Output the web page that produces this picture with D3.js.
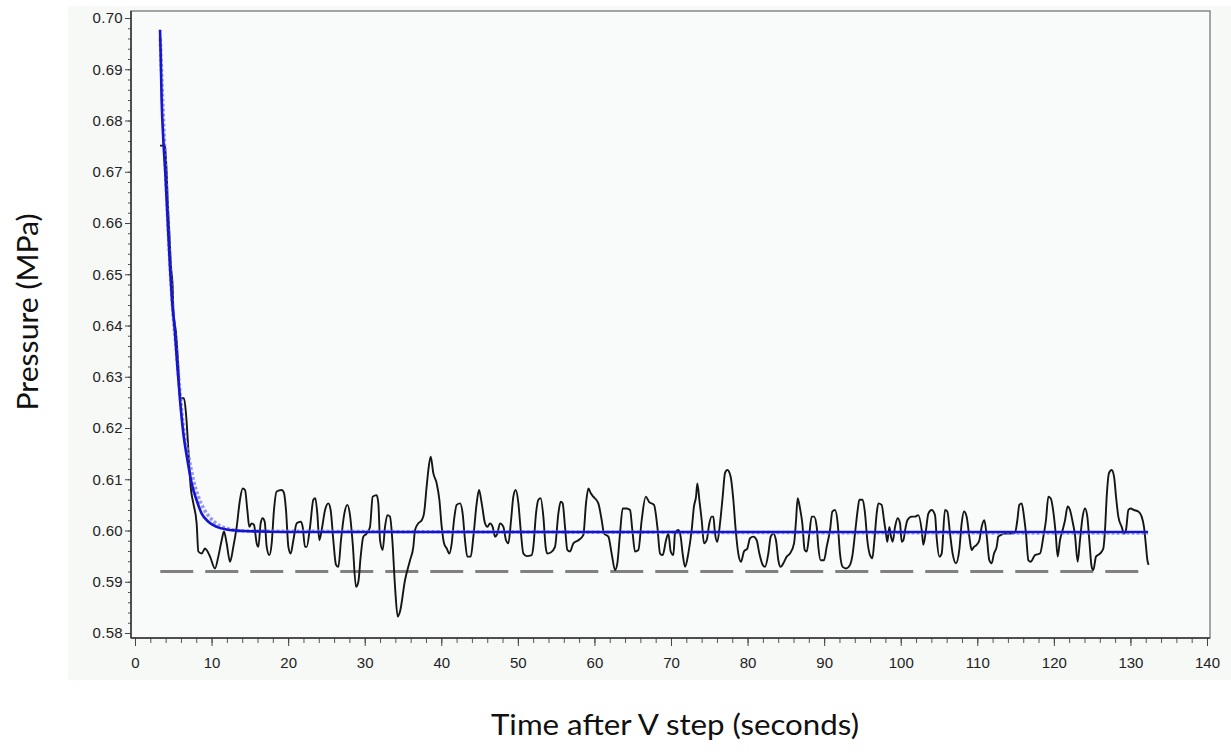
<!DOCTYPE html>
<html lang="en">
<head>
<meta charset="UTF-8">
<script src="https://d3js.org/d3.v7.min.js"></script>
<style>
  body { margin: 0; background: #ffffff; }
</style>
</head>
<body>
<script>
// measured pressure after the V step (black trace)
var measTime = [3.27, 3.92, 4.00, 4.14, 4.27, 4.49, 4.70, 4.92, 5.01, 5.36, 5.66, 5.88, 6.40, 6.66, 6.97, 7.27, 7.62, 8.05, 8.27, 8.71,
  9.14, 9.36, 9.80, 10.45, 10.88, 11.32, 11.62, 11.97, 12.41, 12.84, 13.28, 13.71, 14.06, 14.37, 14.67, 14.93, 15.24, 15.54, 15.89, 16.11,
  16.41, 16.67, 16.94, 17.20, 17.54, 17.85, 18.15, 18.50, 19.16, 19.46, 19.72, 20.03, 20.33, 20.68, 21.12, 21.64, 21.90, 22.20, 22.42, 22.86,
  23.29, 23.55, 23.81, 24.07, 24.38, 24.82, 25.25, 25.55, 25.90, 26.25, 26.56, 26.90, 27.34, 27.73, 28.08, 28.43, 28.86, 29.17, 29.47, 29.82,
  30.26, 30.69, 31.04, 31.56, 31.78, 32.00, 32.35, 32.65, 32.96, 33.30, 33.61, 33.96, 34.31, 34.61, 35.26, 35.92, 36.35, 36.57, 37.00, 37.44,
  37.74, 38.09, 38.31, 38.62, 38.96, 39.40, 39.75, 40.05, 40.36, 40.71, 41.05, 41.36, 41.66, 42.01, 42.45, 42.79, 43.10, 43.40, 43.84, 44.19,
  44.62, 44.93, 45.28, 45.71, 46.02, 46.36, 46.71, 47.02, 47.32, 47.67, 48.11, 48.45, 48.76, 49.11, 49.41, 49.72, 50.07, 50.37, 50.72, 51.15,
  51.81, 52.02, 52.37, 52.68, 52.98, 53.33, 53.63, 53.85, 54.29, 54.85, 55.29, 55.59, 55.85, 56.16, 56.46, 56.81, 57.25, 57.90, 58.55, 58.90,
  59.21, 59.51, 59.86, 60.51, 60.95, 61.25, 61.82, 62.25, 62.69, 62.99, 63.34, 63.69, 64.21, 64.65, 64.95, 65.30, 65.74, 66.17, 66.70, 67.13,
  67.78, 68.22, 68.57, 68.92, 69.35, 69.66, 69.96, 70.31, 70.52, 70.96, 71.26, 71.52, 71.83, 72.26, 72.70, 73.00, 73.27, 73.44, 73.70, 74.01,
  74.31, 74.66, 75.01, 75.31, 75.53, 75.75, 76.05, 76.40, 76.75, 77.05, 77.36, 77.79, 78.14, 78.45, 78.79, 79.14, 79.53, 79.97, 80.32, 80.75,
  81.19, 81.54, 81.97, 82.28, 82.71, 83.02, 83.37, 83.71, 84.02, 84.32, 84.67, 85.11, 85.54, 86.07, 86.33, 86.54, 86.85, 87.15, 87.46, 87.72,
  88.07, 88.37, 88.68, 89.03, 89.24, 89.55, 89.98, 90.33, 90.77, 91.07, 91.42, 91.77, 92.07, 92.42, 92.86, 93.38, 93.73, 94.08, 94.38, 94.60,
  95.03, 95.34, 95.64, 95.99, 96.30, 96.56, 96.86, 97.08, 97.51, 97.82, 98.08, 98.25, 98.52, 98.73, 98.95, 99.26, 99.60, 99.91, 100.13, 100.34,
  100.65, 100.87, 101.43, 101.87, 102.30, 102.74, 102.96, 103.30, 103.61, 104.04, 104.48, 104.70, 105.05, 105.35, 105.78, 106.09, 106.44, 106.78, 107.22, 107.65,
  107.96, 108.26, 108.61, 108.96, 109.27, 109.57, 109.92, 110.27, 110.57, 110.92, 111.22, 111.57, 111.88, 112.18, 112.53, 112.75, 113.05, 113.62, 114.27, 114.93,
  115.23, 115.49, 115.80, 116.10, 116.36, 116.67, 116.97, 117.54, 118.19, 118.63, 118.97, 119.28, 119.58, 119.93, 120.24, 120.50, 120.80, 121.15, 121.46, 121.80,
  122.11, 122.41, 122.76, 123.11, 123.41, 123.76, 124.07, 124.37, 124.63, 124.94, 125.16, 125.50, 126.03, 126.46, 126.68, 126.90, 127.20, 127.55, 127.86, 128.12,
  128.42, 128.86, 129.16, 129.42, 129.73, 130.03, 130.47, 131.03, 131.47, 131.77, 132.04, 132.21, 132.38];
var measPressure = [0.6751, 0.6751, 0.6736, 0.6697, 0.6645, 0.6580, 0.6515, 0.6476, 0.6430, 0.6385, 0.6320, 0.6258, 0.6258, 0.6228, 0.6157, 0.6085, 0.6053, 0.6014, 0.5959, 0.5955,
  0.5965, 0.5962, 0.5949, 0.5926, 0.5949, 0.5981, 0.5998, 0.5975, 0.5939, 0.5968, 0.6007, 0.6060, 0.6082, 0.6079, 0.6040, 0.6007, 0.6014, 0.6011, 0.5975, 0.5968,
  0.6014, 0.6024, 0.6017, 0.5968, 0.5952, 0.5975, 0.6040, 0.6076, 0.6079, 0.6073, 0.6040, 0.5968, 0.5955, 0.5981, 0.6014, 0.6017, 0.6007, 0.5968, 0.5968, 0.6007,
  0.6060, 0.6063, 0.6033, 0.5981, 0.6001, 0.6040, 0.6053, 0.6040, 0.5981, 0.5933, 0.5929, 0.5981, 0.6033, 0.6050, 0.6030, 0.5975, 0.5890, 0.5900, 0.5949, 0.5988,
  0.5994, 0.6007, 0.6066, 0.6069, 0.6053, 0.5981, 0.5962, 0.6007, 0.6030, 0.6027, 0.5981, 0.5890, 0.5832, 0.5842, 0.5903, 0.5942, 0.5968, 0.6001, 0.6014, 0.6020,
  0.6033, 0.6086, 0.6118, 0.6144, 0.6112, 0.6092, 0.6060, 0.6008, 0.5975, 0.5965, 0.5955, 0.5975, 0.6020, 0.6050, 0.6053, 0.6033, 0.5981, 0.5949, 0.5949, 0.5988,
  0.6053, 0.6079, 0.6053, 0.6014, 0.6007, 0.6014, 0.6007, 0.5988, 0.5994, 0.6014, 0.6007, 0.5981, 0.5975, 0.6020, 0.6066, 0.6079, 0.6053, 0.6001, 0.5955, 0.5950,
  0.5952, 0.5968, 0.6033, 0.6060, 0.6063, 0.6027, 0.5968, 0.5955, 0.5957, 0.5968, 0.6033, 0.6056, 0.6053, 0.6007, 0.5962, 0.5959, 0.5975, 0.5981, 0.5991, 0.6053,
  0.6082, 0.6073, 0.6066, 0.6053, 0.6020, 0.5994, 0.5988, 0.5955, 0.5923, 0.5936, 0.5994, 0.6043, 0.6043, 0.6040, 0.6001, 0.5959, 0.5962, 0.6020, 0.6066, 0.6056,
  0.6050, 0.6007, 0.5955, 0.5952, 0.5981, 0.5994, 0.5959, 0.5952, 0.5994, 0.6001, 0.5988, 0.5955, 0.5929, 0.5955, 0.6001, 0.6047, 0.6066, 0.6092, 0.6060, 0.6020,
  0.5975, 0.5981, 0.6014, 0.6027, 0.6027, 0.5994, 0.5978, 0.6014, 0.6066, 0.6112, 0.6118, 0.6105, 0.6060, 0.6001, 0.5955, 0.5939, 0.5959, 0.5965, 0.5985, 0.5988,
  0.5981, 0.5955, 0.5933, 0.5929, 0.5955, 0.5988, 0.5994, 0.5981, 0.5942, 0.5929, 0.5936, 0.5949, 0.5955, 0.5975, 0.6020, 0.6063, 0.6043, 0.6014, 0.5962, 0.5959,
  0.5994, 0.6027, 0.6027, 0.6007, 0.5968, 0.5942, 0.5942, 0.5968, 0.6001, 0.6037, 0.6040, 0.6014, 0.5955, 0.5929, 0.5926, 0.5933, 0.5955, 0.6001, 0.6040, 0.6060,
  0.6060, 0.6033, 0.5981, 0.5952, 0.5946, 0.5981, 0.6033, 0.6053, 0.6050, 0.6020, 0.5994, 0.5978, 0.6007, 0.5988, 0.5978, 0.6007, 0.6024, 0.6014, 0.5978, 0.5981,
  0.6007, 0.6020, 0.6027, 0.6027, 0.6030, 0.6001, 0.5972, 0.6001, 0.6033, 0.6040, 0.6030, 0.5985, 0.5949, 0.5955, 0.6040, 0.6037, 0.5994, 0.5955, 0.5936, 0.5962,
  0.6014, 0.6037, 0.6027, 0.5988, 0.5962, 0.5968, 0.5972, 0.5981, 0.6007, 0.6020, 0.5991, 0.5942, 0.5936, 0.5955, 0.5968, 0.5988, 0.5991, 0.5994, 0.5994, 0.5996,
  0.6020, 0.6050, 0.6053, 0.6027, 0.5994, 0.5942, 0.5939, 0.5952, 0.5955, 0.5988, 0.6020, 0.6066, 0.6063, 0.6037, 0.5994, 0.5949, 0.5981, 0.6001, 0.6020, 0.6047,
  0.6040, 0.6020, 0.5991, 0.5939, 0.5981, 0.6027, 0.6043, 0.6027, 0.5981, 0.5929, 0.5923, 0.5949, 0.5955, 0.5965, 0.6001, 0.6066, 0.6112, 0.6118, 0.6105, 0.6066,
  0.6027, 0.6007, 0.5994, 0.6001, 0.6040, 0.6043, 0.6040, 0.6037, 0.6027, 0.6007, 0.5968, 0.5942, 0.5933];

// exponential fit (solid blue)
var fitTime = [3.27, 3.35, 3.48, 3.70, 3.96, 4.22, 4.57, 4.83, 5.23, 5.53, 5.88, 6.31, 6.84, 7.40, 8.05, 8.71, 9.58, 10.67, 11.97, 14.15, 16.30, 20.00, 132.30];
var fitPressure = [0.6977, 0.6931, 0.6840, 0.6762, 0.6697, 0.6619, 0.6515, 0.6450, 0.6385, 0.6320, 0.6255, 0.6190, 0.6138, 0.6092, 0.6059, 0.6033, 0.6017, 0.6007, 0.6002, 0.5999, 0.5998, 0.5997, 0.5997];

// second model curve (light dashed blue)
var modelTime = [3.30, 4.00, 4.80, 5.50, 6.30, 7.00, 7.60, 8.30, 9.00, 10.00, 11.00, 12.00, 14.00, 132.30];
var modelPressure = [0.6960, 0.6700, 0.6460, 0.6335, 0.6205, 0.6145, 0.6100, 0.6065, 0.6042, 0.6022, 0.6010, 0.6004, 0.5999, 0.5995];

// reference level (grey dashed)
var refTime = [3.3, 132.3];
var refPressure = [0.592, 0.592];

var xTicks = d3.range(0, 141, 10);
var xMinor = d3.range(0, 141, 2);
var yTicks = [0.58, 0.59, 0.60, 0.61, 0.62, 0.63, 0.64, 0.65, 0.66, 0.67, 0.68, 0.69, 0.70];
var yMinor = d3.range(0, 61).map(function (i) { return 0.58 + i * 0.002; });

var width = 1231, height = 753;
var tickFont = "'Liberation Sans', Arial, sans-serif";
var titleFont = "Lato, 'Open Sans', sans-serif";

var svg = d3.select("body").append("svg")
  .attr("width", width)
  .attr("height", height);

// light panel behind everything
svg.append("rect")
  .attr("x", 68).attr("y", 6)
  .attr("width", 1163).attr("height", 674)
  .attr("fill", "#f6f9f6");

var x = d3.scaleLinear().domain([0, 140]).range([135, 1207]);
var y = d3.scaleLinear().domain([0.58, 0.70]).range([633, 18]);

// plot frame
svg.append("rect")
  .attr("x", 131).attr("y", 11)
  .attr("width", 1210 - 131).attr("height", 638 - 11)
  .attr("fill", "#f8fbf9")
  .attr("stroke", "#888")
  .attr("stroke-width", 1.5);

// y axis: minor then major ticks
svg.append("g")
  .attr("transform", "translate(131,0)")
  .call(d3.axisLeft(y).tickValues(yMinor).tickSize(3).tickFormat(""))
  .call(function (g) { g.select(".domain").remove(); g.selectAll("line").attr("stroke", "#555"); });

svg.append("g")
  .attr("transform", "translate(131,0)")
  .call(d3.axisLeft(y).tickValues(yTicks).tickSize(6).tickPadding(2).tickFormat(d3.format(".2f")))
  .call(function (g) {
    g.select(".domain").remove();
    g.selectAll("line").attr("stroke", "#444");
    g.selectAll("text").style("font-size", "15px").style("font-family", tickFont)
      .attr("fill", "#222").attr("letter-spacing", 0.3);
  });

// x axis
svg.append("g")
  .attr("transform", "translate(0,638)")
  .call(d3.axisBottom(x).tickValues(xMinor).tickSize(5).tickFormat(""))
  .call(function (g) { g.select(".domain").remove(); g.selectAll("line").attr("stroke", "#555"); });

svg.append("g")
  .attr("transform", "translate(0,638)")
  .call(d3.axisBottom(x).tickValues(xTicks).tickSize(8).tickPadding(11))
  .call(function (g) {
    g.select(".domain").remove();
    g.selectAll("line").attr("stroke", "#444");
    g.selectAll("text").style("font-size", "15px").style("font-family", tickFont).attr("fill", "#222");
  });

// axis lines
svg.append("line").attr("x1", 131).attr("x2", 131).attr("y1", 11).attr("y2", 638)
  .attr("stroke", "#333").attr("stroke-width", 1.5);
svg.append("line").attr("x1", 131).attr("x2", 1210).attr("y1", 638).attr("y2", 638)
  .attr("stroke", "#333").attr("stroke-width", 1.5);

function toPoints(ts, ps) {
  return ts.map(function (t, i) { return [t, ps[i]]; });
}

var line = d3.line()
  .x(function (d) { return x(d[0]); })
  .y(function (d) { return y(d[1]); });

var smoothLine = d3.line()
  .curve(d3.curveMonotoneX)
  .x(function (d) { return x(d[0]); })
  .y(function (d) { return y(d[1]); });

// grey dashed reference
svg.append("path")
  .datum(toPoints(refTime, refPressure))
  .attr("d", line)
  .attr("fill", "none")
  .attr("stroke", "#808080")
  .attr("stroke-width", 3)
  .attr("stroke-dasharray", "33,12");

// measured trace
svg.append("path")
  .datum(toPoints(measTime, measPressure))
  .attr("d", smoothLine)
  .attr("fill", "none")
  .attr("stroke", "#151515")
  .attr("stroke-width", 1.9)
  .attr("stroke-linejoin", "round");

// light model curve
svg.append("path")
  .datum(toPoints(modelTime, modelPressure))
  .attr("d", smoothLine)
  .attr("fill", "none")
  .attr("stroke", "#7f7fe8")
  .attr("stroke-width", 3.5)
  .attr("stroke-dasharray", "3,2")
  .attr("opacity", 0.8);

// fit curve
svg.append("path")
  .datum(toPoints(fitTime, fitPressure))
  .attr("d", smoothLine)
  .attr("fill", "none")
  .attr("stroke", "#1414d2")
  .attr("stroke-width", 2.6);

// axis titles
svg.append("text")
  .attr("x", 675).attr("y", 735)
  .attr("text-anchor", "middle")
  .style("font-family", titleFont)
  .style("font-size", "28px")
  .attr("fill", "#111")
  .attr("textLength", 368)
  .attr("lengthAdjust", "spacingAndGlyphs")
  .text("Time after V step (seconds)");

svg.append("text")
  .attr("transform", "translate(38,312) rotate(-90)")
  .attr("text-anchor", "middle")
  .style("font-family", titleFont)
  .style("font-size", "28px")
  .attr("fill", "#111")
  .attr("textLength", 197)
  .attr("lengthAdjust", "spacingAndGlyphs")
  .text("Pressure (MPa)");
</script>
</body>
</html>
